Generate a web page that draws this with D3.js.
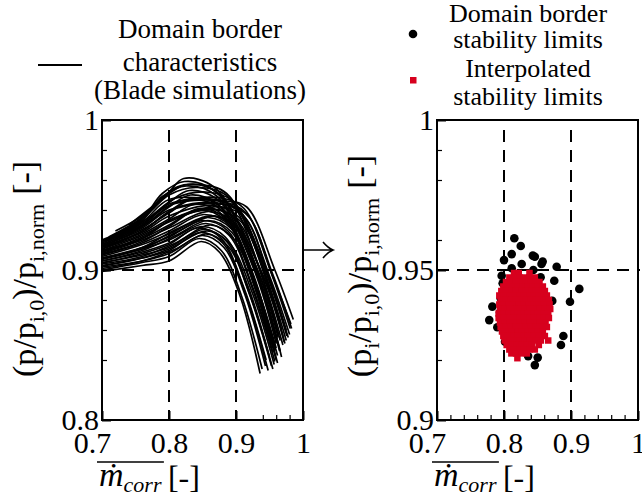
<!DOCTYPE html>
<html><head><meta charset="utf-8">
<script src="https://cdn.jsdelivr.net/npm/d3@7"></script>
<style>
body{margin:0;background:#fff}
svg{display:block}
</style>
</head><body>
<svg id="c" width="642" height="495"></svg>
<script>
// ---------------- DATA ----------------
const xTickValues = [0.7, 0.8, 0.9, 1.0];
const xTickLabels = ["0.7", "0.8", "0.9", "1"];
const leftYTickValues = [0.8, 0.9, 1.0];
const leftYTickLabels = ["0.8", "0.9", "1"];
const rightYTickValues = [0.9, 0.95, 1.0];
const rightYTickLabels = ["0.9", "0.95", "1"];
const leftXMinor = [0.94, 0.96, 0.98];
const rightXMinor = [0.72, 0.74, 0.76, 0.78, 0.82, 0.84, 0.86, 0.88, 0.92, 0.94, 0.96, 0.98];
const leftYMinor = [0.84, 0.86, 0.88, 0.92, 0.94, 0.96, 0.98];
const rightYMinor = [0.92, 0.93, 0.94, 0.96, 0.98, 0.99];
const leftRefX = [0.8, 0.9], leftRefY = [0.9];
const rightRefX = [0.8, 0.9], rightRefY = [0.95];

// Domain border characteristics (blade simulations): [mdot_corr, p-ratio]
const borderCurves = [
  [[0.70,0.899],[0.76,0.903],[0.80,0.906],[0.848,0.919],[0.875,0.912],[0.905,0.884],[0.936,0.831]],
  [[0.70,0.900],[0.76,0.905],[0.80,0.909],[0.845,0.921],[0.878,0.913],[0.908,0.883],[0.939,0.834]],
  [[0.70,0.902],[0.76,0.906],[0.80,0.911],[0.850,0.923],[0.882,0.915],[0.913,0.884],[0.944,0.836]],
  [[0.70,0.903],[0.76,0.908],[0.80,0.913],[0.846,0.925],[0.880,0.918],[0.915,0.883],[0.948,0.833]],
  [[0.70,0.905],[0.76,0.910],[0.80,0.915],[0.852,0.927],[0.886,0.919],[0.920,0.884],[0.953,0.836]],
  [[0.70,0.906],[0.76,0.912],[0.80,0.918],[0.848,0.929],[0.884,0.922],[0.918,0.889],[0.950,0.842]],
  [[0.70,0.907],[0.76,0.914],[0.80,0.920],[0.855,0.931],[0.890,0.923],[0.925,0.887],[0.958,0.839]],
  [[0.70,0.908],[0.76,0.915],[0.80,0.922],[0.850,0.933],[0.888,0.926],[0.923,0.891],[0.955,0.845]],
  [[0.70,0.909],[0.76,0.917],[0.80,0.924],[0.858,0.935],[0.894,0.927],[0.930,0.890],[0.962,0.843]],
  [[0.70,0.910],[0.76,0.918],[0.80,0.926],[0.852,0.937],[0.892,0.929],[0.928,0.893],[0.960,0.848]],
  [[0.70,0.911],[0.76,0.920],[0.80,0.928],[0.860,0.939],[0.898,0.931],[0.935,0.893],[0.966,0.846]],
  [[0.70,0.912],[0.76,0.921],[0.80,0.930],[0.845,0.941],[0.885,0.934],[0.926,0.895],[0.958,0.846]],
  [[0.70,0.913],[0.76,0.923],[0.80,0.932],[0.862,0.941],[0.902,0.933],[0.940,0.894],[0.970,0.850]],
  [[0.70,0.914],[0.76,0.924],[0.80,0.934],[0.840,0.944],[0.882,0.936],[0.924,0.897],[0.955,0.850]],
  [[0.70,0.915],[0.76,0.925],[0.80,0.936],[0.866,0.943],[0.905,0.935],[0.945,0.895],[0.975,0.853]],
  [[0.70,0.916],[0.76,0.927],[0.80,0.938],[0.835,0.947],[0.878,0.940],[0.922,0.899],[0.952,0.852]],
  [[0.70,0.916],[0.76,0.928],[0.80,0.940],[0.870,0.945],[0.910,0.937],[0.950,0.896],[0.980,0.857]],
  [[0.70,0.917],[0.76,0.929],[0.80,0.942],[0.832,0.950],[0.875,0.943],[0.925,0.898],[0.957,0.848]],
  [[0.70,0.918],[0.76,0.930],[0.80,0.943],[0.875,0.946],[0.915,0.938],[0.955,0.897],[0.983,0.861]],
  [[0.70,0.919],[0.76,0.931],[0.80,0.945],[0.830,0.953],[0.875,0.946],[0.930,0.898],[0.962,0.851]],
  [[0.70,0.919],[0.76,0.932],[0.80,0.947],[0.885,0.946],[0.916,0.942],[0.958,0.900],[0.9855,0.867]],
  [[0.70,0.920],[0.76,0.933],[0.79,0.949],[0.826,0.956],[0.872,0.949],[0.935,0.897],[0.966,0.853]],
  [[0.72,0.924],[0.76,0.934],[0.79,0.951],[0.823,0.959],[0.870,0.952],[0.938,0.899],[0.970,0.856]],
  [[0.71,0.922],[0.76,0.935],[0.80,0.952],[0.822,0.961],[0.868,0.955],[0.940,0.896],[0.972,0.852]],
  [[0.70,0.912],[0.76,0.921],[0.81,0.935],[0.880,0.942],[0.915,0.934],[0.950,0.893],[0.978,0.855]],
  [[0.70,0.908],[0.76,0.914],[0.81,0.925],[0.870,0.936],[0.905,0.926],[0.940,0.888],[0.968,0.842]],
  [[0.70,0.904],[0.76,0.909],[0.81,0.918],[0.862,0.930],[0.896,0.921],[0.932,0.884],[0.962,0.838]],
  [[0.73,0.925],[0.77,0.938],[0.80,0.950],[0.840,0.955],[0.885,0.950],[0.932,0.905],[0.962,0.858]],
  [[0.72,0.921],[0.77,0.935],[0.81,0.948],[0.855,0.952],[0.895,0.946],[0.945,0.900],[0.975,0.860]],
  [[0.70,0.914],[0.76,0.926],[0.81,0.941],[0.890,0.943],[0.920,0.935],[0.955,0.895],[0.981,0.861]],
  [[0.70,0.901],[0.76,0.906],[0.81,0.914],[0.855,0.924],[0.888,0.916],[0.922,0.882],[0.955,0.834]],
  [[0.70,0.9045],[0.76,0.911],[0.80,0.917],[0.842,0.928],[0.878,0.921],[0.912,0.888],[0.945,0.840]],
  [[0.70,0.9075],[0.76,0.915],[0.81,0.927],[0.865,0.936],[0.900,0.928],[0.936,0.891],[0.965,0.846]],
  [[0.70,0.9105],[0.76,0.919],[0.80,0.929],[0.843,0.940],[0.884,0.933],[0.922,0.897],[0.953,0.848]],
  [[0.70,0.9125],[0.76,0.922],[0.81,0.935],[0.872,0.940],[0.908,0.932],[0.946,0.892],[0.973,0.851]],
  [[0.70,0.9155],[0.76,0.926],[0.80,0.939],[0.838,0.948],[0.880,0.941],[0.928,0.899],[0.960,0.851]],
  [[0.71,0.920],[0.76,0.930],[0.80,0.944],[0.860,0.947],[0.900,0.941],[0.945,0.898],[0.976,0.856]],
  [[0.72,0.926],[0.76,0.936],[0.80,0.951],[0.828,0.957],[0.874,0.951],[0.932,0.900],[0.963,0.855]],
  [[0.70,0.917],[0.76,0.929],[0.81,0.945],[0.878,0.948],[0.912,0.941],[0.952,0.899],[0.982,0.864]],
  [[0.70,0.906],[0.76,0.913],[0.81,0.923],[0.858,0.933],[0.894,0.925],[0.929,0.887],[0.960,0.840]],
  [[0.70,0.9025],[0.76,0.908],[0.80,0.914],[0.857,0.926],[0.890,0.918],[0.925,0.884],[0.957,0.837]],
  [[0.74,0.930],[0.78,0.944],[0.81,0.955],[0.845,0.957],[0.886,0.951],[0.940,0.902],[0.968,0.860]]
];

// Domain border stability limits
const borderLimitX = [0.8154,0.825,0.8115,0.800,0.843,0.846,0.8577,0.856,0.8786,0.8264,0.8115,0.8438,0.7965,0.8547,0.798,0.875,0.9124,0.8587,0.795,0.872,0.8985,0.7826,0.794,0.778,0.790,0.8886,0.885,0.8015,0.8503,0.846,0.836,0.862,0.805,0.840];
const borderLimitY = [0.9606,0.958,0.9553,0.9533,0.9548,0.9544,0.9528,0.952,0.9511,0.952,0.9506,0.950,0.9481,0.9476,0.9456,0.9464,0.9437,0.9426,0.9406,0.9397,0.9394,0.9378,0.9358,0.9333,0.9309,0.928,0.925,0.9261,0.9208,0.9183,0.9213,0.935,0.944,0.930];

// Interpolated stability limits: rows of [p-ratio, [mdot_corr values]]
const interpRows = [
  [0.9490, [0.815,0.822,0.838]],
  [0.9475, [0.808,0.815,0.823,0.830,0.838,0.846]],
  [0.9460, [0.803,0.810,0.818,0.825,0.833,0.840,0.848,0.853]],
  [0.9445, [0.799,0.806,0.813,0.821,0.828,0.836,0.843,0.851,0.858]],
  [0.9430, [0.796,0.803,0.811,0.818,0.826,0.833,0.841,0.848,0.855,0.861]],
  [0.9415, [0.793,0.800,0.808,0.815,0.823,0.830,0.838,0.845,0.852,0.859,0.864]],
  [0.9400, [0.795,0.802,0.810,0.817,0.825,0.832,0.840,0.847,0.855,0.862,0.867]],
  [0.9385, [0.793,0.800,0.807,0.815,0.822,0.830,0.837,0.845,0.852,0.860,0.868]],
  [0.9370, [0.794,0.801,0.809,0.816,0.824,0.831,0.839,0.846,0.854,0.861,0.869]],
  [0.9355, [0.792,0.799,0.807,0.814,0.821,0.829,0.836,0.844,0.851,0.859,0.866]],
  [0.9340, [0.792,0.800,0.808,0.815,0.823,0.830,0.838,0.845,0.853,0.860,0.867]],
  [0.9325, [0.794,0.801,0.809,0.816,0.824,0.831,0.839,0.846,0.854,0.862]],
  [0.9310, [0.795,0.803,0.810,0.818,0.825,0.833,0.840,0.848,0.855,0.864]],
  [0.9295, [0.797,0.805,0.812,0.820,0.827,0.835,0.842,0.850,0.858]],
  [0.9280, [0.799,0.806,0.814,0.821,0.829,0.836,0.844,0.852,0.861]],
  [0.9265, [0.801,0.809,0.816,0.824,0.831,0.839,0.847,0.855,0.866]],
  [0.9250, [0.804,0.812,0.819,0.827,0.834,0.842,0.852]],
  [0.9235, [0.808,0.815,0.823,0.830,0.838,0.846]],
  [0.9222, [0.811,0.818,0.826,0.834]],
  [0.9206, [0.820]]
];

// ---------------- DRAWING ----------------
const svg = d3.select("#c");
const FONT = '"Liberation Serif", "DejaVu Serif", serif';
const RED = "#d7001e";

const xL = d3.scaleLinear().domain([0.7, 1.0]).range([102, 303]);
const yL = d3.scaleLinear().domain([0.8, 1.0]).range([420, 120]);
const xR = d3.scaleLinear().domain([0.7, 1.0]).range([437, 638]);
const yR = d3.scaleLinear().domain([0.9, 1.0]).range([420, 120]);

function panelAxes(x, y, yVals, yLabs, xMinor, yMinor, refX, refY, clipId) {
  const [x0, x1] = x.range();
  const [y1, y0] = y.range();
  const g = svg.append("g");
  g.selectAll("line.vx").data(refX).join("line")
    .attr("x1", d => x(d)).attr("x2", d => x(d)).attr("y1", y0 + 10).attr("y2", y1)
    .attr("stroke", "#000").attr("stroke-width", 2).attr("stroke-dasharray", "12,8");
  g.selectAll("line.hy").data(refY).join("line")
    .attr("x1", x0).attr("x2", x1 + 2).attr("y1", d => y(d)).attr("y2", d => y(d))
    .attr("stroke", "#000").attr("stroke-width", 2).attr("stroke-dasharray", "12,8");

  const mx = svg.append("g").attr("transform", `translate(0,${y1})`)
    .call(d3.axisBottom(x).tickValues(xMinor).tickSizeInner(-5).tickSizeOuter(0).tickFormat(""));
  mx.select(".domain").remove();
  mx.selectAll("line").attr("stroke", "#000").attr("stroke-width", 1.2);
  const my = svg.append("g").attr("transform", `translate(${x0},0)`)
    .call(d3.axisLeft(y).tickValues(yMinor).tickSizeInner(-5).tickSizeOuter(0).tickFormat(""));
  my.select(".domain").remove();
  my.selectAll("line").attr("stroke", "#000").attr("stroke-width", 1.2);

  const ax = svg.append("g").attr("transform", `translate(0,${y1})`)
    .call(d3.axisBottom(x).tickValues(xTickValues).tickFormat((d, i) => xTickLabels[i])
      .tickSizeInner(-9).tickSizeOuter(0).tickPadding(12));
  ax.select(".domain").remove();
  ax.attr("font-family", FONT).attr("font-size", 30);
  ax.selectAll("line").attr("stroke", "#000").attr("stroke-width", 2);
  ax.selectAll("text").attr("fill", "#000").attr("dx", (d, i) => i === 0 ? -10 : 0);

  const ay = svg.append("g").attr("transform", `translate(${x0},0)`)
    .call(d3.axisLeft(y).tickValues(yVals).tickFormat((d, i) => yLabs[i])
      .tickSizeInner(-9).tickSizeOuter(0).tickPadding(3));
  ay.select(".domain").remove();
  ay.attr("font-family", FONT).attr("font-size", 30);
  ay.selectAll("line").attr("stroke", "#000").attr("stroke-width", 2);
  ay.selectAll("text").attr("fill", "#000");

  svg.append("clipPath").attr("id", clipId).append("rect")
    .attr("x", x0).attr("y", y0).attr("width", x1 - x0).attr("height", y1 - y0);
}

function framePanel(x, y) {
  const [x0, x1] = x.range();
  const [y1, y0] = y.range();
  svg.append("rect").attr("x", x0).attr("y", y0).attr("width", x1 - x0).attr("height", y1 - y0)
    .attr("fill", "none").attr("stroke", "#000").attr("stroke-width", 2);
}

// Left panel
panelAxes(xL, yL, leftYTickValues, leftYTickLabels, leftXMinor, leftYMinor, leftRefX, leftRefY, "clipL");
const line = d3.line().x(d => xL(d[0])).y(d => yL(d[1])).curve(d3.curveCatmullRom.alpha(0.5));
svg.append("g").attr("clip-path", "url(#clipL)")
  .selectAll("path").data(borderCurves).join("path")
  .attr("d", line).attr("fill", "none").attr("stroke", "#000").attr("stroke-width", 1.7);
framePanel(xL, yL);

// Right panel
panelAxes(xR, yR, rightYTickValues, rightYTickLabels, rightXMinor, rightYMinor, rightRefX, rightRefY, "clipR");
const gR = svg.append("g").attr("clip-path", "url(#clipR)");
gR.selectAll("circle").data(borderLimitX.map((v, i) => [v, borderLimitY[i]])).join("circle")
  .attr("cx", d => xR(d[0])).attr("cy", d => yR(d[1])).attr("r", 4.3).attr("fill", "#000");
const interpPts = interpRows.flatMap(([yv, xs]) => xs.map(xv => [xv, yv]));
const SQ = 6.5;
gR.selectAll("rect").data(interpPts).join("rect")
  .attr("x", d => xR(d[0]) - SQ / 2).attr("y", d => yR(d[1]) - SQ / 2)
  .attr("width", SQ).attr("height", SQ).attr("fill", RED);
framePanel(xR, yR);

// Arrow between panels
svg.append("path").attr("d", "M303,250 H332 M323,242 Q328,248 333,250 Q328,252 323,258")
  .attr("fill", "none").attr("stroke", "#000").attr("stroke-width", 1.6);

// Y axis titles
function yTitle(cx, cy, withI) {
  const t = svg.append("text").attr("transform", `translate(${cx},${cy}) rotate(-90)`)
    .attr("text-anchor", "middle").attr("font-family", FONT).attr("font-size", 34).attr("fill", "#000");
  t.append("tspan").text("(p");
  if (withI) t.append("tspan").attr("font-size", 22).attr("dy", 8).text("i");
  t.append("tspan").attr("dy", withI ? -8 : 0).text("/p");
  t.append("tspan").attr("font-size", 22).attr("dy", 8).text("i,0");
  t.append("tspan").attr("dy", -8).text(")/p");
  t.append("tspan").attr("font-size", 22).attr("dy", 8).text("i,norm");
  t.append("tspan").attr("dy", -8).attr("dx", 9).text("[-]");
}
yTitle(36, 269, false);
yTitle(371, 266, true);

// X axis titles
function xTitle(xStart, baseY) {
  const t = svg.append("text").attr("x", xStart).attr("y", baseY)
    .attr("font-family", FONT).attr("font-size", 34).attr("font-style", "italic").attr("fill", "#000");
  t.append("tspan").text("\u1E41");
  t.append("tspan").attr("font-size", 22).attr("dy", 6).text("corr");
  const bb = t.node().getBBox();
  svg.append("line").attr("x1", bb.x - 2).attr("x2", bb.x + bb.width + 2)
    .attr("y1", baseY - 24).attr("y2", baseY - 24).attr("stroke", "#000").attr("stroke-width", 1.5);
  svg.append("text").attr("x", bb.x + bb.width + 6).attr("y", baseY + 2)
    .attr("font-family", FONT).attr("font-size", 32).attr("fill", "#000").text("[-]");
}
xTitle(99, 486);
xTitle(434, 486);

// Legends
const legL = svg.append("g").attr("font-family", FONT).attr("font-size", 27).attr("text-anchor", "middle").attr("fill", "#000");
[["Domain border", 38], ["characteristics", 71], ["(Blade simulations)", 99]].forEach(([s, yy]) =>
  legL.append("text").attr("x", 200).attr("y", yy).text(s));
svg.append("line").attr("x1", 38).attr("x2", 82).attr("y1", 65).attr("y2", 65)
  .attr("stroke", "#000").attr("stroke-width", 2);

const legR = svg.append("g").attr("font-family", FONT).attr("font-size", 26).attr("text-anchor", "middle").attr("fill", "#000");
[["Domain border", 22], ["stability limits", 48], ["Interpolated", 77], ["stability limits", 105]].forEach(([s, yy]) =>
  legR.append("text").attr("x", 528).attr("y", yy).text(s));
svg.append("circle").attr("cx", 413).attr("cy", 34).attr("r", 4.3).attr("fill", "#000");
svg.append("rect").attr("x", 410).attr("y", 77).attr("width", 6.5).attr("height", 6.5).attr("fill", RED);
</script>
</body></html>
